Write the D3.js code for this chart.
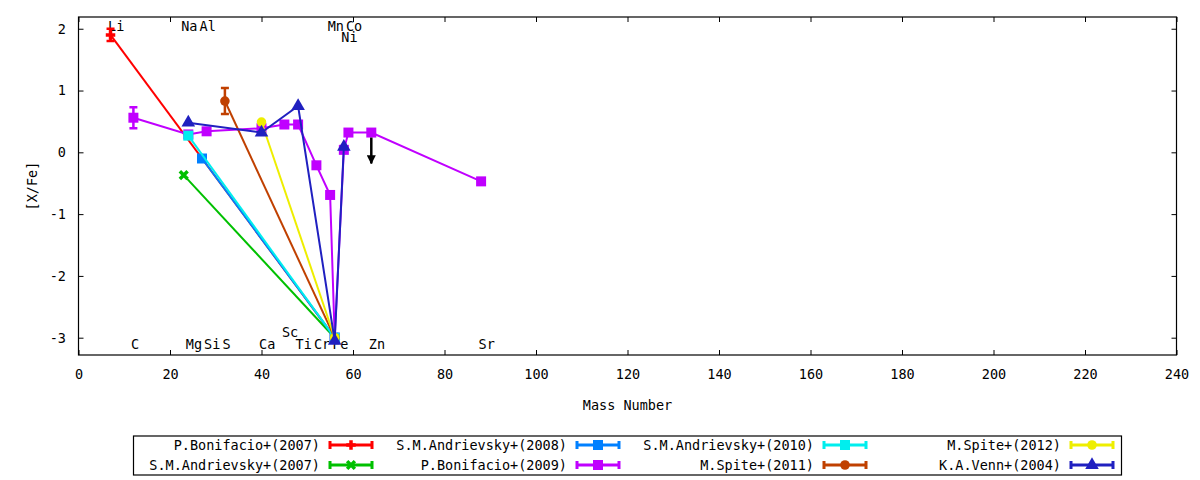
<!DOCTYPE html>
<html>
<head>
<meta charset="utf-8">
<script src="https://cdn.jsdelivr.net/npm/d3@7"></script>
<style>
  body { margin: 0; background: #fff; }
  text { font-family: "DejaVu Sans Mono", monospace; font-size: 13.5px; fill: #000; }
</style>
</head>
<body>
<div id="chart"></div>
<script>
// Element labels (mass number of the main isotope)
const elements = ["Li", "C", "Na", "Mg", "Al", "Si", "S", "Ca", "Sc", "Ti", "Cr", "Mn", "Fe", "Co", "Ni", "Zn", "Sr"];
const elementMass = [7, 12, 23, 24, 27, 28, 32, 40, 45, 48, 52, 55, 56, 59, 58, 64, 88];
const elementLabelY = [2.05, -3.1, 2.05, -3.1, 2.05, -3.1, -3.1, -3.1, -2.9, -3.1, -3.1, 2.05, -3.1, 2.05, 1.87, -3.1, -3.1];

// Series: mass number, [X/Fe], error
const bonifacio2007Mass = [7, 56];
const bonifacio2007Val = [1.90, -3.0];
const bonifacio2007Err = [0.10, 0];

const andrievsky2007Mass = [23, 56];
const andrievsky2007Val = [-0.37, -3.0];
const andrievsky2007Err = [0, 0];

const andrievsky2008Mass = [27, 56];
const andrievsky2008Val = [-0.10, -3.0];
const andrievsky2008Err = [0, 0];

const bonifacio2009Mass = [12, 24, 28, 40, 45, 48, 52, 55, 56, 58, 59, 64, 88];
const bonifacio2009Val = [0.56, 0.29, 0.34, 0.39, 0.45, 0.45, -0.21, -0.69, -3.0, 0.04, 0.32, 0.32, -0.47];
const bonifacio2009Err = [0.17, 0, 0, 0, 0, 0, 0, 0, 0, 0, 0, 0, 0];

const andrievsky2010Mass = [24, 56];
const andrievsky2010Val = [0.27, -3.0];
const andrievsky2010Err = [0, 0];

const spite2011Mass = [32, 56];
const spite2011Val = [0.83, -3.0];
const spite2011Err = [0.21, 0];

const spite2012Mass = [40, 56];
const spite2012Val = [0.49, -3.0];
const spite2012Err = [0, 0];

const venn2004Mass = [24, 40, 48, 56, 58];
const venn2004Val = [0.48, 0.32, 0.75, -3.05, 0.09];
const venn2004Err = [0, 0, 0, 0, 0];

// Upper limit (Zn, Bonifacio 2009)
const limitMass = [64];
const limitVal = [0.32];
const limitLength = [0.5];

const xTicks = [0, 20, 40, 60, 80, 100, 120, 140, 160, 180, 200, 220, 240];
const yTicks = [-3, -2, -1, 0, 1, 2];

// Set up chart dimensions
const width = 1200, height = 480;
const plot = {left: 78.5, right: 1176.5, top: 17, bottom: 355};

const svg = d3.select("#chart").append("svg")
    .attr("width", width)
    .attr("height", height);

const x = d3.scaleLinear().domain([0, 240]).range([plot.left, plot.right]);
const y = d3.scaleLinear().domain([-3.28, 2.19]).range([plot.bottom, plot.top]);

// Axes, ticks pointing inward with mirrored ticks
svg.append("g")
    .attr("transform", "translate(0," + plot.bottom + ")")
    .call(d3.axisBottom(x).tickValues(xTicks).tickSizeInner(-5).tickSizeOuter(0).tickPadding(14).tickFormat(d => String(d)))
    .call(g => g.select(".domain").remove());
svg.append("g")
    .attr("transform", "translate(0," + plot.top + ")")
    .call(d3.axisTop(x).tickValues(xTicks).tickSizeInner(-5).tickSizeOuter(0).tickFormat(""))
    .call(g => g.select(".domain").remove());
svg.append("g")
    .attr("transform", "translate(" + plot.left + ",0)")
    .call(d3.axisLeft(y).tickValues(yTicks).tickSizeInner(-5).tickSizeOuter(0).tickPadding(12.5).tickFormat(d => String(d)))
    .call(g => g.select(".domain").remove());
svg.append("g")
    .attr("transform", "translate(" + plot.right + ",0)")
    .call(d3.axisRight(y).tickValues(yTicks).tickSizeInner(-5).tickSizeOuter(0).tickFormat(""))
    .call(g => g.select(".domain").remove());
svg.selectAll(".tick line").attr("stroke", "#000");
svg.selectAll(".tick text").attr("font-family", null).attr("font-size", null);

svg.append("rect")
    .attr("x", plot.left).attr("y", plot.top)
    .attr("width", plot.right - plot.left).attr("height", plot.bottom - plot.top)
    .attr("fill", "none").attr("stroke", "#000").attr("stroke-width", 1.2);

// Axis titles
svg.append("text")
    .attr("x", (plot.left + plot.right) / 2)
    .attr("y", 405)
    .attr("text-anchor", "middle")
    .attr("dominant-baseline", "central")
    .text("Mass Number");
svg.append("text")
    .attr("transform", "translate(32,186) rotate(-90)")
    .attr("text-anchor", "middle")
    .attr("dominant-baseline", "central")
    .text("[X/Fe]");

// Element labels
svg.append("g").selectAll("text")
    .data(elements)
    .enter().append("text")
    .attr("x", (d, i) => x(elementMass[i]) - 2.5)
    .attr("y", (d, i) => y(elementLabelY[i]))
    .attr("dominant-baseline", "central")
    .text(d => d);

// Marker shapes
const plusShape = {draw(ctx, s) { const r = Math.sqrt(s) / 2; ctx.moveTo(-r, 0); ctx.lineTo(r, 0); ctx.moveTo(0, -r); ctx.lineTo(0, r); }};
const crossShape = {draw(ctx, s) { const r = Math.sqrt(s) / 2; ctx.moveTo(-r, -r); ctx.lineTo(r, r); ctx.moveTo(-r, r); ctx.lineTo(r, -r); }};

const series = [
    {name: "P.Bonifacio+(2007)", color: "#ff0000", mass: bonifacio2007Mass, val: bonifacio2007Val, err: bonifacio2007Err, shape: plusShape, size: 90, stroked: true},
    {name: "S.M.Andrievsky+(2007)", color: "#00c000", mass: andrievsky2007Mass, val: andrievsky2007Val, err: andrievsky2007Err, shape: crossShape, size: 60, stroked: true},
    {name: "S.M.Andrievsky+(2008)", color: "#0080ff", mass: andrievsky2008Mass, val: andrievsky2008Val, err: andrievsky2008Err, shape: d3.symbolSquare, size: 100},
    {name: "P.Bonifacio+(2009)", color: "#c000ff", mass: bonifacio2009Mass, val: bonifacio2009Val, err: bonifacio2009Err, shape: d3.symbolSquare, size: 100},
    {name: "S.M.Andrievsky+(2010)", color: "#00eeee", mass: andrievsky2010Mass, val: andrievsky2010Val, err: andrievsky2010Err, shape: d3.symbolSquare, size: 100},
    {name: "M.Spite+(2011)", color: "#c04000", mass: spite2011Mass, val: spite2011Val, err: spite2011Err, shape: d3.symbolCircle, size: 72},
    {name: "M.Spite+(2012)", color: "#eeee00", mass: spite2012Mass, val: spite2012Val, err: spite2012Err, shape: d3.symbolCircle, size: 72},
    {name: "K.A.Venn+(2004)", color: "#2020c0", mass: venn2004Mass, val: venn2004Val, err: venn2004Err, shape: d3.symbolTriangle, size: 80}
];

const line = d3.line().x(d => x(d.m)).y(d => y(d.v));

function drawMarker(g, s, px, py) {
    g.append("path")
        .attr("transform", "translate(" + px + "," + py + ")")
        .attr("d", d3.symbol().type(s.shape).size(s.size)())
        .attr("fill", s.stroked ? "none" : s.color)
        .attr("stroke", s.color)
        .attr("stroke-width", s.stroked ? 3.5 : 0);
}

series.forEach(s => {
    const pts = s.mass.map((m, i) => ({m: m, v: s.val[i], e: s.err[i]}));
    const g = svg.append("g");
    g.append("path")
        .attr("d", line(pts))
        .attr("fill", "none")
        .attr("stroke", s.color)
        .attr("stroke-width", 2);
    pts.filter(p => p.e > 0).forEach(p => {
        const px = x(p.m), y0 = y(p.v - p.e), y1 = y(p.v + p.e);
        g.append("path")
            .attr("d", "M" + px + "," + y0 + "V" + y1 + "M" + (px - 4) + "," + y0 + "H" + (px + 4) + "M" + (px - 4) + "," + y1 + "H" + (px + 4))
            .attr("stroke", s.color).attr("stroke-width", 2.5).attr("fill", "none");
    });
    pts.forEach(p => drawMarker(g, s, x(p.m), y(p.v)));
});

// Upper limit arrow
svg.append("defs").append("marker")
    .attr("id", "arrowhead")
    .attr("viewBox", "0 0 10 10")
    .attr("refX", 9).attr("refY", 5)
    .attr("markerWidth", 9).attr("markerHeight", 9)
    .attr("markerUnits", "userSpaceOnUse")
    .attr("orient", "auto")
    .append("path").attr("d", "M0,0L10,5L0,10Z").attr("fill", "#000");
svg.append("g").selectAll("line")
    .data(limitMass)
    .enter().append("line")
    .attr("x1", d => x(d))
    .attr("x2", d => x(d))
    .attr("y1", (d, i) => y(limitVal[i]) + 5)
    .attr("y2", (d, i) => y(limitVal[i] - limitLength[i]))
    .attr("stroke", "#000")
    .attr("stroke-width", 2.5)
    .attr("marker-end", "url(#arrowhead)");

// Legend: 2 rows, column-major
const legend = {left: 133.5, top: 436, right: 1121.5, bottom: 475, colWidth: 247, rowHeight: 20, textRight: 320};
svg.append("rect")
    .attr("x", legend.left).attr("y", legend.top)
    .attr("width", legend.right - legend.left).attr("height", legend.bottom - legend.top)
    .attr("fill", "none").attr("stroke", "#000").attr("stroke-width", 1.2);

series.forEach((s, i) => {
    const col = Math.floor(i / 2), row = i % 2;
    const tx = legend.textRight + col * legend.colWidth;
    const ty = legend.top + 9 + row * legend.rowHeight;
    const g = svg.append("g");
    g.append("text")
        .attr("x", tx).attr("y", ty)
        .attr("text-anchor", "end")
        .attr("dominant-baseline", "central")
        .text(s.name);
    const x0 = tx + 10, x1 = tx + 52;
    g.append("path")
        .attr("d", "M" + x0 + "," + ty + "H" + x1 + "M" + x0 + "," + (ty - 4) + "V" + (ty + 4) + "M" + x1 + "," + (ty - 4) + "V" + (ty + 4))
        .attr("stroke", s.color).attr("stroke-width", 3).attr("fill", "none");
    drawMarker(g, s, (x0 + x1) / 2, ty);
});
</script>
</body>
</html>
